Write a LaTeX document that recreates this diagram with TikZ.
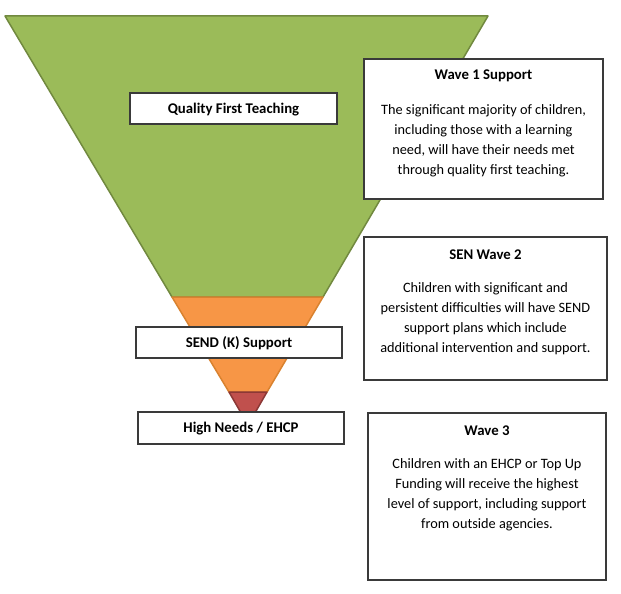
\documentclass[tikz,border=0pt]{standalone}
\usepackage{fontspec}
\setmainfont{Carlito}
\definecolor{grfill}{HTML}{9BBB59}
\definecolor{grline}{HTML}{71893F}
\definecolor{orfill}{HTML}{F79646}
\definecolor{orline}{HTML}{D9822F}
\definecolor{rdfill}{HTML}{C0504D}
\definecolor{rdline}{HTML}{8C3836}
\definecolor{boxgray}{HTML}{3A3A3A}
\begin{document}
\begin{tikzpicture}[x=1pt,y=-1pt,
  band/.style={line width=1.5pt, line join=round},
  box/.style={draw=boxgray, line width=1.1pt, fill=white, inner sep=0pt},
  ttl/.style={font=\bfseries\fontsize{14.8}{17}\selectfont, inner sep=0pt},
  body/.style={align=center, font=\fontsize{14.3}{20}\selectfont, inner sep=0pt}]
\useasboundingbox (0,0) rectangle (621,594);
% funnel bands
\filldraw[band, fill=grfill, draw=grline] (5,16) -- (488,16) -- (323,297) -- (172,297) -- cycle;
\filldraw[band, fill=orfill, draw=orline] (172,297) -- (323,297) -- (267,392) -- (229,392) -- cycle;
\filldraw[band, fill=rdfill, draw=rdline] (229,392) -- (267,392) -- (248,425) -- cycle;
% level labels
\node[box, minimum width=207, minimum height=31] (qft) at (233.5,108.5) {};
\node[ttl] (qftt) at ([yshift=-1pt]qft.center) {Quality First Teaching};
\node[box, minimum width=206, minimum height=31] (send) at (239,342.5) {};
\node[ttl] (sendt) at ([yshift=-1pt]send.center) {SEND (K) Support};
\node[box, minimum width=206, minimum height=32] (hn) at (241,428) {};
\node[ttl] (hnt) at ([yshift=-1pt]hn.center) {High Needs / EHCP};
% description boxes
\node[box, minimum width=239, minimum height=140] (w1) at (483.5,129) {};
\node[ttl] (w1t) at (483.5,75.5) {Wave 1 Support};
\node[body] (w1b) at (483.5,141) {The significant majority of children,\\including those with a learning\\need, will have their needs met\\through quality first teaching.};
\node[box, minimum width=243, minimum height=143] (w2) at (485.5,308.5) {};
\node[ttl] (w2t) at (485.5,254.5) {SEN Wave 2};
\node[body] (w2b) at (485.5,319) {Children with significant and\\persistent difficulties will have SEND\\support plans which include\\additional intervention and support.};
\node[box, minimum width=238, minimum height=167] (w3) at (487,496.5) {};
\node[ttl] (w3t) at (487,430.5) {Wave 3};
\node[body] (w3b) at (487,494.5) {Children with an EHCP or Top Up\\Funding will receive the highest\\level of support, including support\\from outside agencies.};
\end{tikzpicture}
\end{document}
